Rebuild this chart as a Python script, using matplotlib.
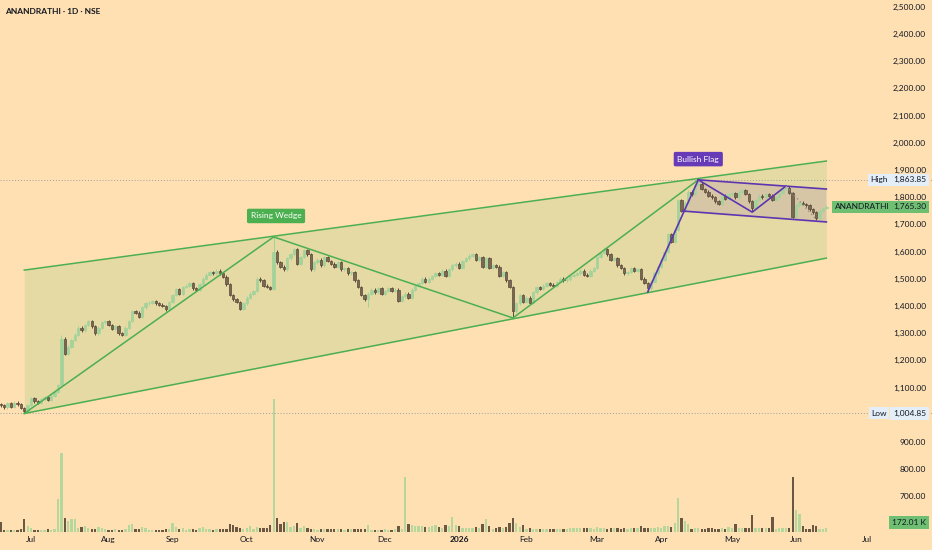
import numpy as np
import matplotlib.pyplot as plt
from matplotlib.ticker import FuncFormatter
from matplotlib.transforms import blended_transform_factory

plt.rcParams['font.family'] = ['Lato', 'DejaVu Sans']

# daily closes, one per trading day (index 0 = mid June 2025)
closes = [
    1035, 1028, 1042, 1030, 1045, 1038, 1025, 1015, 1035, 1060,
    1050, 1045, 1058, 1065, 1055, 1070, 1085, 1110, 1280, 1225,
    1250, 1275, 1295, 1320, 1310, 1330, 1345, 1325, 1300, 1320,
    1340, 1345, 1330, 1315, 1325, 1300, 1295, 1320, 1345, 1380,
    1375, 1360, 1395, 1410, 1412, 1418, 1410, 1405, 1400, 1388,
    1415, 1440, 1462, 1445, 1470, 1475, 1485, 1465, 1460, 1480,
    1500, 1515, 1525, 1520, 1530, 1520, 1508, 1480, 1440, 1425,
    1415, 1390, 1410, 1430, 1445, 1455, 1500, 1495, 1475, 1470,
    1462, 1600, 1560, 1545, 1535, 1575, 1590, 1610, 1555, 1580,
    1605, 1590, 1535, 1560, 1570, 1550, 1580, 1565, 1555, 1545,
    1560, 1535, 1540, 1520, 1525, 1495, 1470, 1440, 1425, 1445,
    1460, 1450, 1465, 1445, 1455, 1465, 1455, 1460, 1420, 1435,
    1445, 1430, 1460, 1475, 1485, 1500, 1490, 1500, 1510, 1520,
    1515, 1530, 1510, 1535, 1550, 1555, 1540, 1565, 1575, 1585,
    1590, 1570, 1580, 1545, 1575, 1540, 1550, 1545, 1510, 1525,
    1495, 1470, 1380, 1410, 1440, 1415, 1430, 1412, 1450, 1470,
    1462, 1475, 1485, 1478, 1475, 1488, 1500, 1495, 1498, 1510,
    1515, 1520, 1530, 1515, 1512, 1530, 1540, 1580, 1595, 1610,
    1590, 1570, 1575, 1550, 1540, 1520, 1525, 1540, 1530, 1535,
    1500, 1485, 1465, 1490, 1520, 1545, 1570, 1600, 1665, 1635,
    1680, 1790, 1750, 1780, 1820, 1810, 1845, 1850, 1830, 1820,
    1805, 1800, 1785, 1775, 1805, 1795, 1810, 1815, 1800, 1820,
    1825, 1812, 1785, 1760, 1790, 1805, 1800, 1810, 1805, 1790,
    1800, 1815, 1830, 1835, 1815, 1728, 1770, 1780, 1775, 1770,
    1755, 1745, 1725, 1750, 1760, 1765.30,
]
first_open = 1040

# volume in thousands of shares
volumes = [
    420, 90, 100, 80, 90, 80, 120, 540, 260, 150,
    90, 80, 90, 80, 110, 90, 140, 1400, 3300, 600,
    480, 560, 560, 180, 220, 240, 150, 120, 130, 200,
    170, 110, 100, 90, 120, 100, 90, 120, 300, 320,
    120, 110, 200, 180, 90, 100, 80, 90, 100, 110,
    130, 380, 200, 110, 150, 90, 140, 110, 100, 160,
    200, 140, 110, 100, 120, 110, 120, 140, 350, 280,
    220, 150, 140, 170, 250, 130, 200, 160, 180, 170,
    300, 5600, 590, 350, 420, 430, 200, 260, 380, 170,
    250, 150, 120, 130, 100, 120, 110, 140, 120, 130,
    110, 120, 100, 110, 120, 110, 130, 140, 120, 300,
    90, 80, 100, 90, 110, 100, 90, 110, 250, 120,
    2300, 340, 290, 270, 260, 250, 200, 230, 240, 280,
    200, 180, 300, 250, 620, 300, 250, 170, 160, 170,
    180, 210, 170, 340, 550, 250, 130, 150, 210, 150,
    210, 380, 590, 380, 200, 290, 130, 170, 140, 120,
    130, 110, 120, 130, 120, 140, 120, 130, 110, 150,
    160, 150, 170, 180, 160, 150, 140, 200, 170, 150,
    140, 150, 160, 150, 140, 170, 130, 150, 160, 150,
    250, 150, 170, 160, 180, 200, 180, 250, 260, 220,
    380, 1430, 590, 460, 340, 130, 170, 150, 120, 130,
    170, 160, 120, 140, 150, 130, 210, 170, 340, 170,
    160, 160, 160, 710, 150, 170, 160, 180, 150, 630,
    140, 160, 170, 160, 170, 2300, 920, 750, 250, 130,
    120, 290, 260, 110, 120, 172.01,
]

# wick extremes that stand out
wick_high = {18: 1293, 81: 1654, 179: 1617, 207: 1863.85, 233: 1841}
wick_low = {7: 1004.85, 71: 1385, 109: 1396, 152: 1356, 192: 1452,
            223: 1748, 242: 1716}

month_ticks = [9, 32, 51, 73, 94, 114, 136, 156, 177, 196, 217, 236, 257]
month_labels = ['Jul', 'Aug', 'Sep', 'Oct', 'Nov', 'Dec', '2026', 'Feb',
                'Mar', 'Apr', 'May', 'Jun', 'Jul']
# 1,000.00 sits under the "Low" label, so it is not shown
price_ticks = [600, 700, 800, 900, 1100, 1200, 1300, 1400, 1500, 1600, 1700,
               1800, 1900, 2000, 2100, 2200, 2300, 2400, 2500]

# drawings (bar index, price)
wedge_top_x, wedge_top_y = [7, 245], [1532, 1933]
wedge_bot_x, wedge_bot_y = [7, 245], [1004.85, 1576]
wedge_zz_x, wedge_zz_y = [7, 81, 152, 207], [1004.85, 1654, 1356, 1863.85]
pole_x, pole_y = [192, 207], [1452, 1863.85]
flag_top_x, flag_top_y = [207, 245], [1863.85, 1830]
flag_bot_x, flag_bot_y = [202.5, 245], [1749, 1709]
flag_zz_x, flag_zz_y = [207, 223, 233], [1863.85, 1745, 1841]
flag_dot_x, flag_dot_y = [233, 242], [1841, 1718]

high_val, low_val, last_val, last_vol = 1863.85, 1004.85, 1765.30, 172.01

bg = '#FFE0B2'
up_c = '#A3D29B'
dn_c = '#5A4938'
green = '#4CAF50'
purple = '#5E35B1'
txt = '#131722'
fs = 6.0

fig = plt.figure(figsize=(9.32, 5.5), dpi=100, facecolor=bg)
ax = fig.add_axes([0, 18 / 550, 1, 532 / 550])
ax2 = ax.twinx()
ax.set_zorder(ax2.get_zorder() + 1)
ax.patch.set_visible(False)
ax2.patch.set_facecolor(bg)

n = len(closes)
xs = np.arange(n)
c = np.array(closes, dtype=float)
o = np.concatenate([[first_open], c[:-1]])
up = c >= o
hi = np.maximum(o, c) + 5
lo = np.minimum(o, c) - 5
for k, v in wick_high.items():
    hi[k] = v
for k, v in wick_low.items():
    lo[k] = v

# volume
vol = np.array(volumes)
ax2.bar(xs, vol, width=0.68, color=np.where(up, '#B5D79C', '#6B5843'), linewidth=0)
ax2.set_ylim(0, 22344)
ax2.set_yticks([])
for s in ax2.spines.values():
    s.set_visible(False)

# wedge and flag areas
ax.fill_between(wedge_top_x, wedge_bot_y, wedge_top_y, color=(76/255, 175/255, 80/255, 0.14),
                linewidth=0, zorder=1)
ax.fill(flag_top_x + flag_bot_x[::-1], flag_top_y + flag_bot_y[::-1],
        color=(94/255, 53/255, 177/255, 0.11), linewidth=0, zorder=1)

# candles
ax.vlines(xs, lo, hi, colors=np.where(up, up_c, dn_c), linewidth=0.7, zorder=3)
body_h = np.maximum(np.abs(c - o), 2.5)
ax.bar(xs, body_h, bottom=np.minimum(o, c), width=0.7,
       color=np.where(up, up_c, '#7A6854'), edgecolor=np.where(up, up_c, dn_c),
       linewidth=0.5, zorder=4)

# pattern lines
ax.plot(wedge_top_x, wedge_top_y, color=green, lw=1.1, zorder=5)
ax.plot(wedge_bot_x, wedge_bot_y, color=green, lw=1.1, zorder=5)
ax.plot(wedge_zz_x, wedge_zz_y, color=green, lw=1.1, zorder=5)
ax.plot(pole_x, pole_y, color=purple, lw=1.2, zorder=5)
ax.plot(flag_top_x, flag_top_y, color=purple, lw=1.2, zorder=5)
ax.plot(flag_bot_x, flag_bot_y, color=purple, lw=1.2, zorder=5)
ax.plot(flag_zz_x, flag_zz_y, color=purple, lw=1.2, zorder=5)
ax.plot(flag_dot_x, flag_dot_y, color='#9a8f88', lw=1.0, ls=(0, (1, 2)), zorder=5)

ax.axhline(high_val, color='#9E9E9E', lw=0.7, ls=(0, (1, 2)), zorder=2)
ax.axhline(low_val, color='#9E9E9E', lw=0.7, ls=(0, (1, 2)), zorder=2)

ax.text(81.7, 1731, 'Rising Wedge', fontsize=fs, color='white', ha='center', va='center',
        zorder=6, bbox=dict(boxstyle='round,pad=0.45,rounding_size=0.2', fc='#4CAF50', ec='none'))
ax.text(207, 1940, 'Bullish Flag', fontsize=fs, color='white', ha='center', va='center',
        zorder=6, bbox=dict(boxstyle='round,pad=0.45,rounding_size=0.2', fc='#673AB7', ec='none'))

# axes
ax.set_xlim(-0.7 / 3.37, (932 - 0.7) / 3.37)
ax.set_ylim(569.1, 2525)
ax2.set_xlim(ax.get_xlim())
for s in ax.spines.values():
    s.set_visible(False)
ax.set_xticks(month_ticks, month_labels)
ax.tick_params(axis='x', length=0, pad=3, labelsize=fs, labelcolor=txt)
for lbl in ax.get_xticklabels():
    if lbl.get_text() == '2026':
        lbl.set_fontweight('bold')
ax.yaxis.tick_right()
ax.set_yticks(price_ticks)
ax.yaxis.set_major_formatter(FuncFormatter(lambda v, p: f'{v:,.2f}'))
ax.tick_params(axis='y', length=0, pad=-4.3, labelsize=fs, labelcolor=txt)
for lbl in ax.get_yticklabels():
    lbl.set_horizontalalignment('right')

# price scale labels
tr = blended_transform_factory(ax.transAxes, ax.transData)
kw = dict(transform=tr, fontsize=fs, va='center', zorder=7)
ax.text(926 / 932, high_val, f'{high_val:,.2f}', ha='right', color=txt,
        bbox=dict(boxstyle='square,pad=0.3', fc='#E3EEF8', ec='none'), **kw)
ax.text(879 / 932, high_val, 'High', ha='center', color=txt,
        bbox=dict(boxstyle='square,pad=0.3', fc='#E3EEF8', ec='none'), **kw)
ax.text(926 / 932, low_val, f'{low_val:,.2f}', ha='right', color=txt,
        bbox=dict(boxstyle='square,pad=0.3', fc='#E3EEF8', ec='none'), **kw)
ax.text(879 / 932, low_val, 'Low', ha='center', color=txt,
        bbox=dict(boxstyle='square,pad=0.3', fc='#E3EEF8', ec='none'), **kw)
ax.text(926 / 932, last_val, f'{last_val:,.2f}', ha='right', color=txt,
        bbox=dict(boxstyle='square,pad=0.3', fc='#6FBF73', ec='none'), **kw)
ax.text(862 / 932, last_val, 'ANANDRATHI', ha='center', color=txt,
        bbox=dict(boxstyle='square,pad=0.3', fc='#6FBF73', ec='none'), **kw)
ax.annotate(f'{last_vol:.2f} K', xy=(926 / 932, last_vol),
            xycoords=blended_transform_factory(ax.transAxes, ax2.transData),
            xytext=(0, 4), textcoords='offset points', ha='right', va='center',
            fontsize=fs, color=txt, zorder=7, annotation_clip=False,
            bbox=dict(boxstyle='square,pad=0.35', fc='#6FBF73', ec='none'))

fig.text(5 / 932, 1 - 11 / 550, 'ANANDRATHI \u00b7 1D \u00b7 NSE', fontsize=fs,
         fontweight='bold', color=txt, va='center')

fig.savefig('out.png', dpi=100, facecolor=bg)
